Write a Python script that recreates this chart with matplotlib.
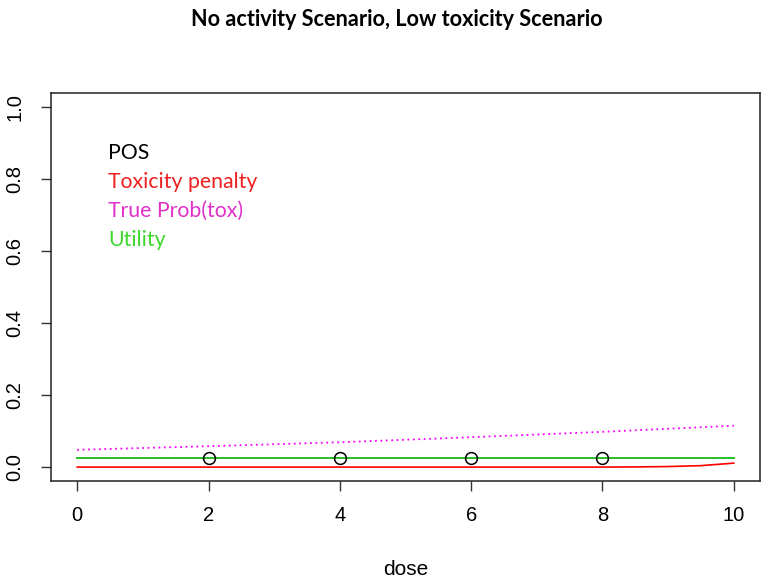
import numpy as np
import matplotlib.pyplot as plt

# values
dose_pts = [2, 4, 6, 8]
pos_pts = [0.025, 0.025, 0.025, 0.025]

dose = [0, 2, 4, 6, 8, 10]
pos = [0.025, 0.025, 0.025, 0.025, 0.025, 0.025]
utility = [0.025, 0.025, 0.025, 0.025, 0.025, 0.025]
true_tox = [0.048, 0.058, 0.069, 0.083, 0.098, 0.115]

pen_dose = [0, 2, 4, 6, 8, 8.5, 9, 9.5, 10]
penalty = [0, 0, 0, 0, 0, 0.0004, 0.0015, 0.004, 0.011]

legend_labels = ["POS", "Toxicity penalty", "True Prob(tox)", "Utility"]
legend_colors = ["black", "#ee2020", "#e030c8", "#3cd82a"]

fig = plt.figure(figsize=(7.61, 5.81), dpi=100)
ax = fig.add_axes([0.067, 0.1713, 0.9317, 0.6687])

ax.plot(dose, pos, color="black", lw=1.2)
ax.plot(pen_dose, penalty, color="#ff0000", lw=1.2)
ax.plot(dose, true_tox, color="#ff00ff", lw=1.3, linestyle=(0, (1, 2)))
ax.plot(dose, utility, color="#2ec42e", lw=1.4)
ax.plot(dose_pts, pos_pts, "o", mfc="none", mec="black", ms=8.5, mew=1.1)

ax.set_xlim(-0.4, 10.4)
ax.set_ylim(-0.04, 1.04)
ax.set_xticks([0, 2, 4, 6, 8, 10])
ax.set_yticks([0.0, 0.2, 0.4, 0.6, 0.8, 1.0])
ax.set_yticklabels(["0.0", "0.2", "0.4", "0.6", "0.8", "1.0"], rotation=90, va="center")
ax.tick_params(length=7, width=1, labelsize=14.5, color="#333333")
ax.tick_params(axis="x", pad=11)
ax.tick_params(axis="y", pad=12)
for lab in ax.get_xticklabels() + ax.get_yticklabels():
    lab.set_fontfamily("Liberation Sans")
for s in ax.spines.values():
    s.set_linewidth(1.1)
    s.set_color("#222222")

ax.set_xlabel("dose", fontsize=15, family="Liberation Sans", labelpad=25)

# text legend, one line per series
for i, (lab, col) in enumerate(zip(legend_labels, legend_colors)):
    ax.text(0.47, 0.873 - i * 0.0805, lab, color=col, fontsize=15.3,
            family="Lato", va="center", ha="left")

fig.suptitle("No activity Scenario, Low toxicity Scenario", x=0.522, y=0.985,
             fontsize=15.6, fontweight="bold", family="Lato")

fig.savefig("out.png", dpi=100)
